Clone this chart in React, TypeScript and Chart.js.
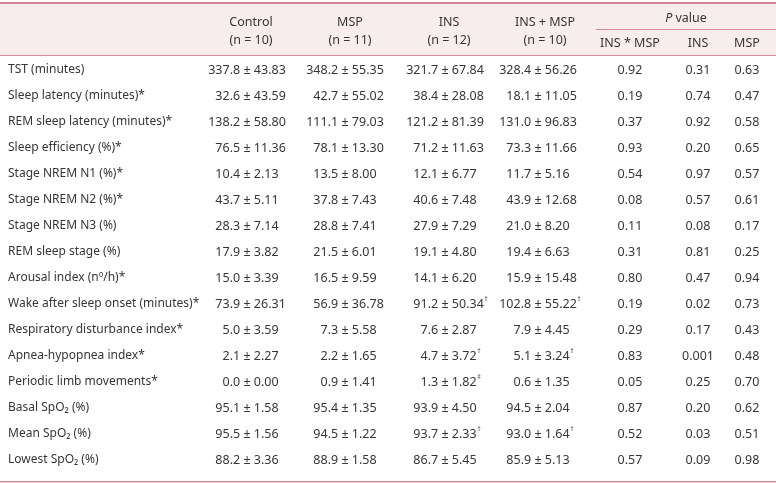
import { useEffect, useRef } from "react";
import { Chart, registerables } from "chart.js";

Chart.register(...registerables);

const W = 776;
const H = 483;

const groupNames = ["Control", "MSP", "INS", "INS + MSP"];
const groupN = ["(n = 10)", "(n = 11)", "(n = 12)", "(n = 10)"];
const pHeader = "value";
const pNames = ["INS * MSP", "INS", "MSP"];

const rowLabels = [
  "TST (minutes)",
  "Sleep latency (minutes)*",
  "REM sleep latency (minutes)*",
  "Sleep efficiency (%)*",
  "Stage NREM N1 (%)*",
  "Stage NREM N2 (%)*",
  "Stage NREM N3 (%)",
  "REM sleep stage (%)",
  "Arousal index (nº/h)*",
  "Wake after sleep onset (minutes)*",
  "Respiratory disturbance index*",
  "Apnea-hypopnea index*",
  "Periodic limb movements*",
  "Basal SpO₂ (%)",
  "Mean SpO₂ (%)",
  "Lowest SpO₂ (%)",
];

const controlMean = [337.8, 32.6, 138.2, 76.5, 10.4, 43.7, 28.3, 17.9, 15.0, 73.9, 5.0, 2.1, 0.0, 95.1, 95.5, 88.2];
const controlSD = [43.83, 43.59, 58.8, 11.36, 2.13, 5.11, 7.14, 3.82, 3.39, 26.31, 3.59, 2.27, 0.0, 1.58, 1.56, 3.36];
const mspMean = [348.2, 42.7, 111.1, 78.1, 13.5, 37.8, 28.8, 21.5, 16.5, 56.9, 7.3, 2.2, 0.9, 95.4, 94.5, 88.9];
const mspSD = [55.35, 55.02, 79.03, 13.3, 8.0, 7.43, 7.41, 6.01, 9.59, 36.78, 5.58, 1.65, 1.41, 1.35, 1.22, 1.58];
const insMean = [321.7, 38.4, 121.2, 71.2, 12.1, 40.6, 27.9, 19.1, 14.1, 91.2, 7.6, 4.7, 1.3, 93.9, 93.7, 86.7];
const insSD = [67.84, 28.08, 81.39, 11.63, 6.77, 7.48, 7.29, 4.8, 6.2, 50.34, 2.87, 3.72, 1.82, 4.5, 2.33, 5.45];
const insMarks = ["", "", "", "", "", "", "", "", "", "†", "", "†", "‡", "", "†", ""];
const comboMean = [328.4, 18.1, 131.0, 73.3, 11.7, 43.9, 21.0, 19.4, 15.9, 102.8, 7.9, 5.1, 0.6, 94.5, 93.0, 85.9];
const comboSD = [56.26, 11.05, 96.83, 11.66, 5.16, 12.68, 8.2, 6.63, 15.48, 55.22, 4.45, 3.24, 1.35, 2.04, 1.64, 5.13];
const comboMarks = ["", "", "", "", "", "", "", "", "", "†", "", "†", "", "", "†", ""];
const pInteraction = ["0.92", "0.19", "0.37", "0.93", "0.54", "0.08", "0.11", "0.31", "0.80", "0.19", "0.29", "0.83", "0.05", "0.87", "0.52", "0.57"];
const pIns = ["0.31", "0.74", "0.92", "0.20", "0.97", "0.57", "0.08", "0.81", "0.47", "0.02", "0.17", "0.001", "0.25", "0.20", "0.03", "0.09"];
const pMsp = ["0.63", "0.47", "0.58", "0.65", "0.57", "0.61", "0.17", "0.25", "0.94", "0.73", "0.43", "0.48", "0.70", "0.62", "0.51", "0.98"];

// layout (pixels / row units)
const ROW_H = 26;
const FIRST_ROW_Y = 70;
const groupCenters = [251, 350, 449, 545];
const pmAnchors = [247, 345, 445, 538];
const pCenters = [630, 698, 747];
const pSpanLeft = 596;
const labelX = 8;

const FONT_FAMILY = '"Noto Sans", "Open Sans", sans-serif';
const FONT_SIZE = 12.5;
const LABEL_FONT_SIZE = 12;
const TEXT = "#363636";
const LINE = "#d58d9d";
const LINE_DARK = "#cf8396";
const HEAD_BG = "#f8ecec";

const yMin = -FIRST_ROW_Y / ROW_H;
const yMax = yMin + H / ROW_H;

function drawPM(ctx: CanvasRenderingContext2D, mean: number, sd: number, mark: string, ax: number, y: number) {
  const pm = "±";
  const pmW = ctx.measureText(pm).width;
  const sp = ctx.measureText(" ").width;
  ctx.textAlign = "right";
  ctx.fillText(mean.toFixed(1), ax - pmW / 2 - sp, y);
  ctx.textAlign = "center";
  ctx.fillText(pm, ax, y);
  ctx.textAlign = "left";
  const s = sd.toFixed(2);
  const sx = ax + pmW / 2 + sp;
  ctx.fillText(s, sx, y);
  if (mark) {
    const w = ctx.measureText(s).width;
    const save = ctx.font;
    ctx.font = `7px ${FONT_FAMILY}`;
    ctx.fillText(mark, sx + w + 0.5, y - 5);
    ctx.font = save;
  }
}

const tablePlugin = {
  id: "tablePlugin",
  afterDraw(chart: any) {
    const ctx: CanvasRenderingContext2D = chart.ctx;
    const ys = chart.scales.y;
    const xs = chart.scales.x;
    const X = (v: number) => xs.getPixelForValue(v);
    const Y = (v: number) => ys.getPixelForValue(v);
    ctx.save();
    // header background
    ctx.fillStyle = HEAD_BG;
    ctx.fillRect(X(0), 2, X(W) - X(0), 54);
    // lines
    ctx.fillStyle = LINE_DARK;
    ctx.fillRect(X(0), 2, X(W) - X(0), 2);
    ctx.fillStyle = LINE;
    ctx.fillRect(X(0), 55, X(W) - X(0), 1);
    ctx.fillRect(X(pSpanLeft), 29, X(W) - X(pSpanLeft), 1);
    const bottomY = Math.round(Y(rowLabels.length - 1 + 0.82));
    ctx.fillRect(X(0), bottomY, X(W) - X(0), 1.5);

    ctx.fillStyle = TEXT;
    ctx.textBaseline = "middle";
    ctx.font = `${FONT_SIZE}px ${FONT_FAMILY}`;
    // header
    ctx.textAlign = "center";
    groupNames.forEach((g, i) => {
      ctx.fillText(g, X(groupCenters[i]), 22);
      ctx.fillText(groupN[i], X(groupCenters[i]), 40);
    });
    // P value
    const pc = (X(pSpanLeft) + X(W)) / 2;
    ctx.font = `italic ${FONT_SIZE}px ${FONT_FAMILY}`;
    const pW = ctx.measureText("P ").width;
    ctx.font = `${FONT_SIZE}px ${FONT_FAMILY}`;
    const vW = ctx.measureText(pHeader).width;
    const startX = pc - (pW + vW) / 2;
    ctx.textAlign = "left";
    ctx.font = `italic ${FONT_SIZE}px ${FONT_FAMILY}`;
    ctx.fillText("P", startX, 18);
    ctx.font = `${FONT_SIZE}px ${FONT_FAMILY}`;
    ctx.fillText(pHeader, startX + pW, 18);
    ctx.textAlign = "center";
    pNames.forEach((p, i) => ctx.fillText(p, X(pCenters[i]), 43.5));

    // rows
    rowLabels.forEach((label, r) => {
      const y = Y(r);
      ctx.textAlign = "left";
      ctx.font = `${LABEL_FONT_SIZE}px ${FONT_FAMILY}`;
      ctx.fillText(label, X(labelX), y);
      ctx.font = `${FONT_SIZE}px ${FONT_FAMILY}`;
      drawPM(ctx, controlMean[r], controlSD[r], "", X(pmAnchors[0]), y);
      drawPM(ctx, mspMean[r], mspSD[r], "", X(pmAnchors[1]), y);
      drawPM(ctx, insMean[r], insSD[r], insMarks[r], X(pmAnchors[2]), y);
      drawPM(ctx, comboMean[r], comboSD[r], comboMarks[r], X(pmAnchors[3]), y);
      ctx.textAlign = "center";
      ctx.fillText(pInteraction[r], X(pCenters[0]), y);
      ctx.fillText(pIns[r], X(pCenters[1]), y);
      ctx.fillText(pMsp[r], X(pCenters[2]), y);
    });
    ctx.restore();
  },
};

export default function App() {
  const ref = useRef<HTMLCanvasElement>(null);
  useEffect(() => {
    document.body.style.margin = "0";
    const canvas = ref.current;
    if (!canvas) return;
    const chart = new Chart(canvas, {
      type: "scatter",
      data: {
        datasets: [
          {
            data: rowLabels.map((_, i) => ({ x: labelX, y: i })),
            pointRadius: 0,
            showLine: false,
          },
        ],
      },
      options: {
        responsive: false,
        animation: false,
        devicePixelRatio: 1,
        layout: { padding: 0 },
        plugins: { legend: { display: false }, tooltip: { enabled: false } },
        scales: {
          x: { type: "linear", display: false, min: 0, max: W },
          y: { type: "linear", display: false, reverse: true, min: yMin, max: yMax },
        },
      },
      plugins: [tablePlugin],
    });
    return () => chart.destroy();
  }, []);
  return <canvas ref={ref} width={W} height={H} style={{ display: "block", background: "#ffffff" }} />;
}
